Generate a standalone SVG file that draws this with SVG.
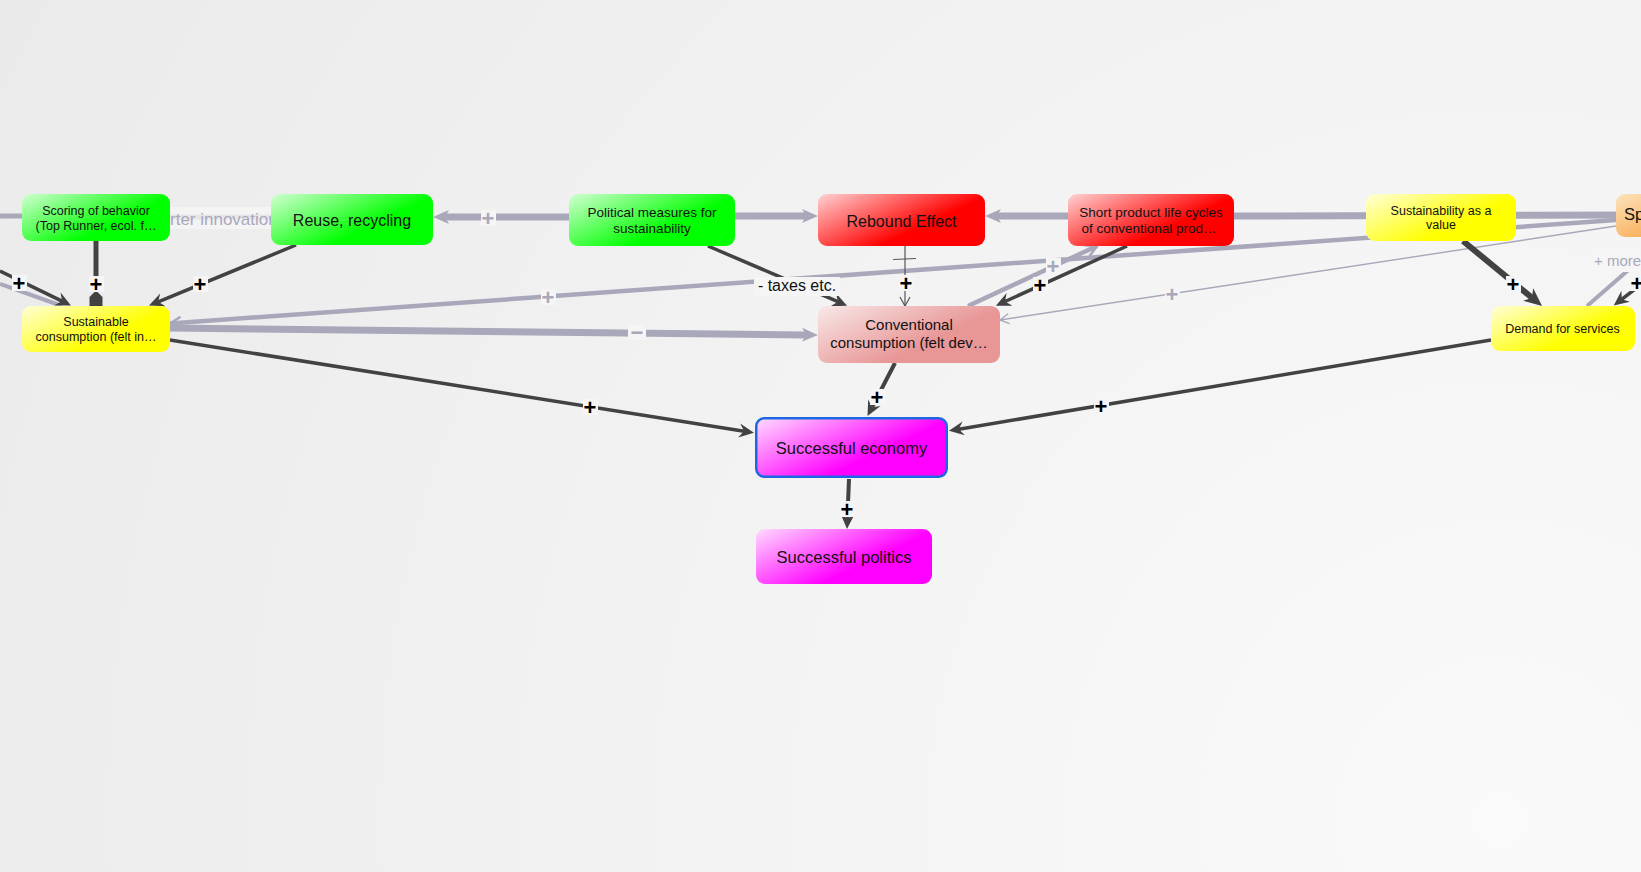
<svg xmlns="http://www.w3.org/2000/svg" width="1641" height="872" viewBox="0 0 1641 872">
<defs>
<style>
.t{font-family:"Liberation Sans",Arial,Helvetica,sans-serif;fill:#111;text-anchor:middle}
.gl{stroke:#a9a8bb;fill:none}
.dl{stroke:#424242;fill:none}
.pb{font-family:"Liberation Sans",Arial,sans-serif;font-weight:bold;font-size:22px;text-anchor:middle}
.lb{fill:#f5f5f5}
.k{fill:#000}
.g{fill:#a9a8bb}
</style>
<radialGradient id="bg" gradientUnits="userSpaceOnUse" cx="1500" cy="820" r="1750">
<stop offset="0" stop-color="#fafafa"/><stop offset="1" stop-color="#eaeaea"/>
</radialGradient>
<linearGradient id="gGreen" x1="0" y1="0" x2="0.9" y2="0.6"><stop offset="0" stop-color="#d2ffd2"/><stop offset="0.8" stop-color="#00ff00"/></linearGradient>
<linearGradient id="gRed" x1="0" y1="0" x2="0.9" y2="0.6"><stop offset="0" stop-color="#ffd2d2"/><stop offset="0.8" stop-color="#ff0000"/></linearGradient>
<linearGradient id="gYel" x1="0" y1="0" x2="0.9" y2="0.6"><stop offset="0" stop-color="#ffffd6"/><stop offset="0.8" stop-color="#ffff00"/></linearGradient>
<linearGradient id="gConv" x1="0" y1="0" x2="0.9" y2="0.6"><stop offset="0" stop-color="#f9e8e8"/><stop offset="0.8" stop-color="#e89696"/></linearGradient>
<linearGradient id="gMag" x1="0" y1="0" x2="0.9" y2="0.6"><stop offset="0" stop-color="#ffdcff"/><stop offset="0.8" stop-color="#ff00ff"/></linearGradient>
<linearGradient id="gOr" x1="0" y1="0" x2="0.9" y2="0.6"><stop offset="0" stop-color="#fde2bc"/><stop offset="0.8" stop-color="#f7a84a"/></linearGradient>
<marker id="ad" markerUnits="userSpaceOnUse" markerWidth="16" markerHeight="14" refX="5" refY="7" orient="auto" overflow="visible"><path d="M0,0 L15,7 L0,14 L5,7 z" fill="#424242"/></marker>
<marker id="adL" markerUnits="userSpaceOnUse" markerWidth="18" markerHeight="16" refX="5" refY="8" orient="auto" overflow="visible"><path d="M0,0 L18,8 L0,16 L5,8 z" fill="#424242"/></marker>
<marker id="ag" markerUnits="userSpaceOnUse" markerWidth="16" markerHeight="14" refX="4" refY="7" orient="auto" overflow="visible"><path d="M0,0 L16,7 L0,14 L4,7 z" fill="#a9a8bb"/></marker>
<marker id="ao" markerUnits="userSpaceOnUse" markerWidth="12" markerHeight="12" refX="10" refY="6" orient="auto" overflow="visible"><path d="M1,1 L10,6 L1,11" fill="none" stroke="#a9a8bb" stroke-width="1.4"/></marker>
<marker id="ao2" markerUnits="userSpaceOnUse" markerWidth="14" markerHeight="14" refX="12" refY="7" orient="auto" overflow="visible"><path d="M1,1 L12,7 L1,13" fill="none" stroke="#a9a8bb" stroke-width="2.6"/></marker>
<marker id="aod" markerUnits="userSpaceOnUse" markerWidth="12" markerHeight="12" refX="10" refY="6" orient="auto" overflow="visible"><path d="M1,1 L10,6 L1,11" fill="none" stroke="#555" stroke-width="1.2"/></marker>
</defs>
<rect x="0" y="0" width="1641" height="872" fill="url(#bg)"/>

<g id="connectors">
<path class="gl" stroke-width="5" d="M0,216 L22,216"/>
<path class="gl" stroke-width="5" d="M170,217 L271,217"/>
<path class="gl" stroke-width="4" d="M0,284 L62,306"/>
<path class="gl" stroke-width="7" d="M569,217 L445,217" marker-end="url(#ag)"/>
<path class="gl" stroke-width="7" d="M735,216 L806,216" marker-end="url(#ag)"/>
<path class="gl" stroke-width="7" d="M1068,216 L997,216" marker-end="url(#ag)"/>
<path class="gl" stroke-width="7" d="M1641,215 L1234,216"/>
<path class="gl" stroke-width="4.5" d="M1616,220 L170,323.5" marker-end="url(#ao2)"/>
<path class="gl" stroke-width="7" d="M170,328 L806,334.9" marker-end="url(#ag)"/>
<path class="gl" stroke-width="4.5" d="M968,306 L1097,246" marker-end="url(#ao2)"/>
<path class="gl" stroke-width="1.4" d="M1616,226 L1000,320" marker-end="url(#ao)"/>
<path class="gl" stroke-width="4" d="M1587,306 L1641,259"/>
<path class="dl" stroke-width="3.5" d="M0,271 L62,301.1" marker-end="url(#ad)"/>
<path class="dl" stroke-width="5" d="M96,241 L96,292"/>
<polygon points="96,290.5 102.5,297 102.5,306 89.5,306 89.5,297" fill="#424242"/>
<path class="dl" stroke-width="3.5" d="M296,245 L158.2,301.8" marker-end="url(#ad)"/>
<path class="dl" stroke-width="3.5" d="M708,246 L837.9,301.7" marker-end="url(#ad)"/>
<path stroke="#555" stroke-width="1.2" fill="none" d="M905,246 L905,306" marker-end="url(#aod)"/>
<path stroke="#555" stroke-width="1.2" fill="none" d="M893,259.5 L916,258.5"/>
<path class="dl" stroke-width="3.5" d="M1127,246 L1005,301.5" marker-end="url(#ad)"/>
<path class="dl" stroke-width="6" d="M1463,241 L1532,297.7" marker-end="url(#adL)"/>
<path class="dl" stroke-width="3.5" d="M1660,270 L1621.7,299.3" marker-end="url(#ad)"/>
<path class="dl" stroke-width="3.5" d="M170,340 L744.1,431.3" marker-end="url(#ad)"/>
<path class="dl" stroke-width="3.5" d="M1491,340 L958.8,429.2" marker-end="url(#ad)"/>
<path class="dl" stroke-width="4" d="M895,363 L872.1,407.2" marker-end="url(#ad)"/>
<path class="dl" stroke-width="4" d="M849,479 L847.4,519" marker-end="url(#ad)"/>
</g>

<g id="labels">
<rect class="lb" x="168" y="207" width="105" height="22" fill-opacity="0.8"/>
<text x="170" y="225" font-family="Liberation Sans, Arial, sans-serif" font-size="17" fill="#a9a8bb">rter innovation</text>
<rect class="lb" x="1590" y="253" width="51" height="19"/>
<text x="1594" y="266" font-family="Liberation Sans, Arial, sans-serif" font-size="15" fill="#a9a8bb">+ more</text>
<rect class="lb" x="754" y="277" width="86" height="19"/>
<text class="t" x="797" y="291" font-size="16" fill="#000">- taxes etc.</text>
<g class="pb">
<rect class="lb" x="12" y="275" width="15" height="16"/><text class="k" x="19" y="290.8">+</text>
<rect class="lb" x="89" y="276" width="15" height="16"/><text class="k" x="96" y="291.8">+</text>
<rect class="lb" x="193" y="276" width="15" height="16"/><text class="k" x="200" y="291.8">+</text>
<rect class="lb" x="899" y="275" width="15" height="16"/><text class="k" x="906" y="290.8">+</text>
<rect class="lb" x="1033" y="277" width="15" height="16"/><text class="k" x="1040" y="292.8">+</text>
<rect class="lb" x="1506" y="276" width="15" height="16"/><text class="k" x="1513" y="291.8">+</text>
<rect class="lb" x="1630" y="275" width="15" height="16"/><text class="k" x="1637" y="290.8">+</text>
<rect class="lb" x="583" y="399" width="15" height="16"/><text class="k" x="590" y="414.8">+</text>
<rect class="lb" x="1094" y="398" width="15" height="16"/><text class="k" x="1101" y="413.8">+</text>
<rect class="lb" x="870" y="389" width="15" height="16"/><text class="k" x="877" y="404.8">+</text>
<rect class="lb" x="840" y="501" width="15" height="16"/><text class="k" x="847" y="516.8">+</text>
<rect class="lb" x="481" y="210" width="15" height="16"/><text class="g" x="488" y="225.8">+</text>
<rect class="lb" x="541" y="289" width="15" height="16"/><text class="g" x="548" y="304.8">+</text>
<rect class="lb" x="1046" y="258" width="15" height="16"/><text class="g" x="1053" y="273.8">+</text>
<rect class="lb" x="1165" y="286" width="15" height="16"/><text class="g" x="1172" y="301.8">+</text>
<rect class="lb" x="628" y="325" width="18" height="15"/><text class="g" x="637" y="340">−</text>
</g>
</g>

<g id="node-scoring">
<rect x="22" y="194" width="148" height="47" rx="9" fill="url(#gGreen)"/>
<text class="t" x="96" y="214.5" font-size="12.5"><tspan x="96">Scoring of behavior</tspan><tspan x="96" dy="15">(Top Runner, ecol. f…</tspan></text>
</g>
<g id="node-reuse">
<rect x="271" y="194" width="162" height="51" rx="9" fill="url(#gGreen)"/>
<text class="t" x="352" y="226" font-size="16">Reuse, recycling</text>
</g>
<g id="node-political">
<rect x="569" y="194" width="166" height="52" rx="9" fill="url(#gGreen)"/>
<text class="t" x="652" y="217" font-size="13.5"><tspan x="652">Political measures for</tspan><tspan x="652" dy="16.4">sustainability</tspan></text>
</g>
<g id="node-rebound">
<rect x="818" y="194" width="167" height="52" rx="9" fill="url(#gRed)"/>
<text class="t" x="901.5" y="227.3" font-size="16">Rebound Effect</text>
</g>
<g id="node-short">
<rect x="1068" y="194" width="166" height="52" rx="9" fill="url(#gRed)"/>
<text class="t" x="1151" y="217" font-size="13.5"><tspan x="1151">Short product life cycles</tspan><tspan x="1149" dy="16">of conventional prod…</tspan></text>
</g>
<g id="node-sustvalue">
<rect x="1366" y="194" width="150" height="47" rx="9" fill="url(#gYel)"/>
<text class="t" x="1441" y="214.5" font-size="12.5"><tspan x="1441">Sustainability as a</tspan><tspan x="1441" dy="14.5">value</tspan></text>
</g>
<g id="node-sp">
<rect x="1616" y="194" width="140" height="43" rx="9" fill="url(#gOr)"/>
<text x="1624" y="219.5" font-family="Liberation Sans, Arial, sans-serif" font-size="16.5" fill="#111">Sp</text>
</g>
<g id="node-sustainable">
<rect x="22" y="306" width="148" height="46" rx="9" fill="url(#gYel)"/>
<text class="t" x="96" y="326" font-size="12.5"><tspan x="96">Sustainable</tspan><tspan x="96" dy="15">consumption (felt in…</tspan></text>
</g>
<g id="node-conventional">
<rect x="818" y="306" width="182" height="57" rx="9" fill="url(#gConv)"/>
<text class="t" x="909" y="330.4" font-size="15"><tspan x="909">Conventional</tspan><tspan x="909" dy="18">consumption (felt dev…</tspan></text>
</g>
<g id="node-demand">
<rect x="1491" y="306" width="144" height="45" rx="9" fill="url(#gYel)"/>
<text class="t" x="1562.5" y="332.8" font-size="12.5">Demand for services</text>
</g>
<g id="node-economy">
<rect x="756.25" y="418.25" width="190.5" height="58.5" rx="8" fill="url(#gMag)" stroke="#1c68e2" stroke-width="2.5"/>
<text class="t" x="851.5" y="454" font-size="16.5">Successful economy</text>
</g>
<g id="node-politics">
<rect x="756" y="529" width="176" height="55" rx="9" fill="url(#gMag)"/>
<text class="t" x="844" y="563" font-size="16.5">Successful politics</text>
</g>
</svg>
